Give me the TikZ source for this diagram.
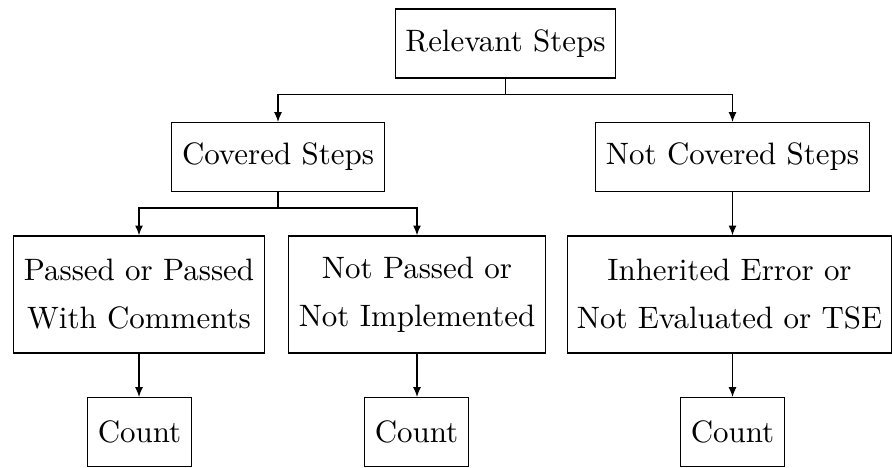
\documentclass[tikz,border=0pt]{standalone}
\usetikzlibrary{arrows.meta}
\begin{document}
\begin{tikzpicture}[
  x=0.32787pt, y=-0.32787pt,
  box/.style={draw, line width=0.4pt, align=center,
    font=\fontsize{10.15pt}{15.7pt}\selectfont},
  onebox/.style={box, minimum height=22.6pt},
  twobox/.style={box, minimum height=38.4pt},
  link/.style={line width=0.4pt, -{Latex[length=3.2pt,width=2.6pt]}}
]
\useasboundingbox (0,0) rectangle (892,467);

% top level
\node[onebox] (rel) at (505.5,43.5) {Relevant Steps};

% second level
\node[onebox] (cov) at (278,157) {Covered Steps};
\node[onebox] (ncov) at (732.5,157) {Not Covered Steps};

% third level
\node[twobox] (pass) at (139,294.5) {Passed or Passed\\With Comments};
\node[twobox] (npass) at (417,294.5) {Not Passed or\\Not Implemented};
\node[twobox, inner xsep=3pt] (inh) at (729.5,294.5) {Inherited Error or\\Not Evaluated or TSE};

% counters
\node[onebox] (c1) at (139.5,432) {Count};
\node[onebox] (c2) at (416.5,432) {Count};
\node[onebox] (c3) at (732.5,432) {Count};

% connectors
\draw[link] (rel.south) -- ++(0,16) -| (cov.north);
\draw[link] (rel.south) -- ++(0,16) -| (ncov.north);
\draw[link] (cov.south) -- ++(0,16) -| (pass.north);
\draw[link] (cov.south) -- ++(0,16) -| (npass.north);
\draw[link] (ncov.south) -- (ncov.south |- inh.north);
\draw[link] (pass.south) -- (pass.south |- c1.north);
\draw[link] (npass.south) -- (npass.south |- c2.north);
\draw[link] (inh.south -| c3.north) -- (c3.north);
\end{tikzpicture}
\end{document}
